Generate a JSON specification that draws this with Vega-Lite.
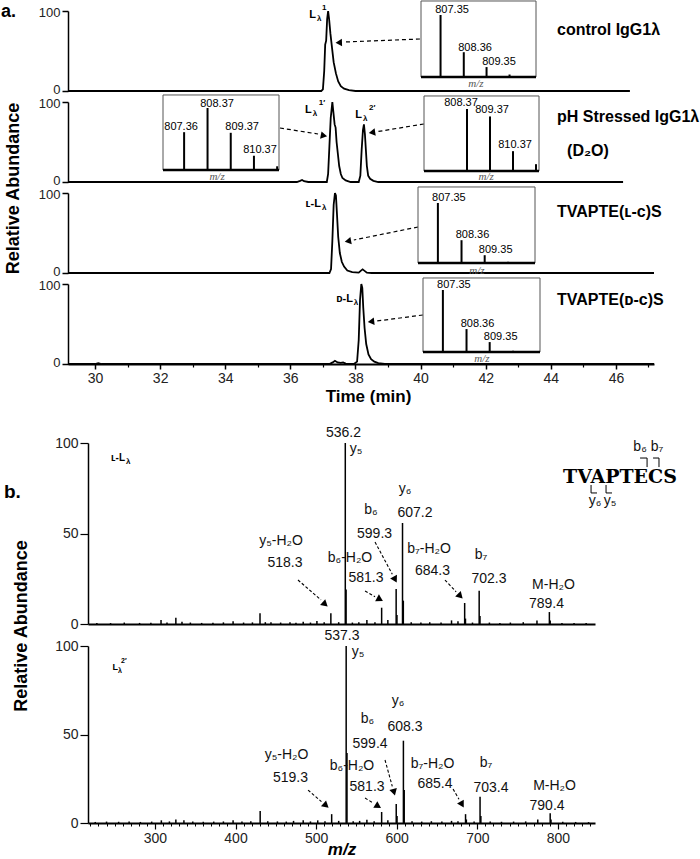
{
  "$schema": "https://vega.github.io/schema/vega-lite/v6.json",
  "width": 700,
  "height": 859,
  "autosize": {"type": "none"},
  "padding": 0,
  "background": "white",
  "config": {
    "view": {"stroke": null},
    "axis": {"grid": false, "labelFont": "Liberation Sans", "titleFont": "Liberation Sans", "domainColor": "black", "tickColor": "black", "labelColor": "#222", "titleColor": "black", "labelFlush": false, "labelOverlap": false},
    "text": {"font": "Liberation Sans", "color": "black"}
  },
  "resolve": {"scale": {"x": "independent", "y": "independent"}},
  "layer": [
    {"layer": [
      {"data": {"values": [{"t":29.17,"ab":0},{"t":36.95,"ab":0},{"t":37.0,"ab":2},{"t":37.04,"ab":25},{"t":37.07,"ab":58},{"t":37.1,"ab":63},{"t":37.13,"ab":90},{"t":37.16,"ab":100},{"t":37.19,"ab":90},{"t":37.23,"ab":72},{"t":37.28,"ab":54},{"t":37.33,"ab":36},{"t":37.4,"ab":22},{"t":37.47,"ab":12},{"t":37.55,"ab":6},{"t":37.65,"ab":3},{"t":37.8,"ab":1},{"t":38.0,"ab":0},{"t":46.43,"ab":0}]},
       "mark": {"type": "line", "color": "black", "strokeWidth": 1.8},
       "encoding": {
         "x": {"field": "t", "type": "quantitative", "scale": {"domain": [29.17, 47.17], "range": [68, 654], "nice": false, "zero": false}, "axis": null},
         "y": {"field": "ab", "type": "quantitative", "scale": {"domain": [0, 100], "range": [91, 11], "nice": false, "zero": false}, "axis": null}
       }},
      {"data": {"values": [{"t": 39.98, "ab": 65, "t2": 37.68, "ab2": 61.25}]},
       "mark": {"type": "rule", "strokeDash": [4, 3], "strokeWidth": 1.2, "color": "black"},
       "encoding": {"x": {"field": "t", "type": "quantitative", "axis": null}, "y": {"field": "ab", "type": "quantitative", "axis": null}, "x2": {"field": "t2"}, "y2": {"field": "ab2"}}},
      {"data": {"values": [{}]},
       "mark": {"type": "point", "shape": "triangle", "angle": 268, "filled": true, "size": 55, "color": "black", "opacity": 1},
       "encoding": {"x": {"datum": 37.52, "type": "quantitative", "axis": null}, "y": {"datum": 60.6, "type": "quantitative", "axis": null}}},
      {"data": {"values": [{"s": "control IgG1λ", "t": 44.19, "ab": 70}]},
       "mark": {"type": "text", "fontSize": 16, "fontWeight": "bold", "align": "left", "baseline": "alphabetic"},
       "encoding": {"x": {"field": "t", "type": "quantitative", "axis": null}, "y": {"field": "ab", "type": "quantitative", "axis": null}, "text": {"field": "s"}}},
      {"data": {"values": [{"s": "L", "t": 36.79, "ab": 91.25}]},
       "mark": {"type": "text", "fontSize": 11, "fontWeight": "bold", "align": "right", "baseline": "alphabetic"},
       "encoding": {"x": {"field": "t", "type": "quantitative", "axis": null}, "y": {"field": "ab", "type": "quantitative", "axis": null}, "text": {"field": "s"}}},
      {"data": {"values": [{"s": "λ", "t": 36.79, "ab": 91.25}]},
       "mark": {"type": "text", "fontSize": 8, "fontWeight": "bold", "align": "left", "baseline": "alphabetic", "dx": 1, "dy": 3},
       "encoding": {"x": {"field": "t", "type": "quantitative", "axis": null}, "y": {"field": "ab", "type": "quantitative", "axis": null}, "text": {"field": "s"}}},
      {"data": {"values": [{"s": "1", "t": 36.79, "ab": 91.25}]},
       "mark": {"type": "text", "fontSize": 8, "fontWeight": "bold", "align": "left", "baseline": "alphabetic", "dx": 6, "dy": -8},
       "encoding": {"x": {"field": "t", "type": "quantitative", "axis": null}, "y": {"field": "ab", "type": "quantitative", "axis": null}, "text": {"field": "s"}}},
      {"data": {"values": [{"s": "a.", "t": 27.11, "ab": 93}]},
       "mark": {"type": "text", "fontSize": 18, "fontWeight": "bold", "align": "left", "baseline": "alphabetic"},
       "encoding": {"x": {"field": "t", "type": "quantitative", "axis": null}, "y": {"field": "ab", "type": "quantitative", "axis": null}, "text": {"field": "s"}}},
      {"data": {"values": [{"s": "Relative Abundance", "t": 27.51, "ab": -121.9}]},
       "mark": {"type": "text", "fontSize": 18, "fontWeight": "bold", "align": "center", "baseline": "middle", "angle": 270},
       "encoding": {"x": {"field": "t", "type": "quantitative", "axis": null}, "y": {"field": "ab", "type": "quantitative", "axis": null}, "text": {"field": "s"}}}
    ]},
    {"layer": [
      {"data": {"values": [{"t":29.17,"ab":0},{"t":36.2,"ab":0},{"t":36.3,"ab":1.5},{"t":36.36,"ab":2.5},{"t":36.42,"ab":1},{"t":36.55,"ab":0},{"t":37.12,"ab":0},{"t":37.16,"ab":10},{"t":37.2,"ab":45},{"t":37.24,"ab":80},{"t":37.29,"ab":100},{"t":37.32,"ab":88},{"t":37.36,"ab":72},{"t":37.39,"ab":68},{"t":37.42,"ab":50},{"t":37.46,"ab":35},{"t":37.5,"ab":20},{"t":37.55,"ab":10},{"t":37.6,"ab":5},{"t":37.7,"ab":2},{"t":37.85,"ab":0},{"t":38.1,"ab":0},{"t":38.15,"ab":8},{"t":38.19,"ab":40},{"t":38.23,"ab":65},{"t":38.26,"ab":72},{"t":38.29,"ab":60},{"t":38.32,"ab":40},{"t":38.35,"ab":20},{"t":38.39,"ab":8},{"t":38.45,"ab":4},{"t":38.55,"ab":1.5},{"t":38.7,"ab":0},{"t":46.22,"ab":0}]},
       "mark": {"type": "line", "color": "black", "strokeWidth": 1.8},
       "encoding": {
         "x": {"field": "t", "type": "quantitative", "scale": {"domain": [29.17, 47.17], "range": [68, 654], "nice": false, "zero": false}, "axis": null},
         "y": {"field": "ab", "type": "quantitative", "scale": {"domain": [0, 100], "range": [182, 102], "nice": false, "zero": false}, "axis": null}
       }},
      {"data": {"values": [{"t": 35.68, "ab": 67.5, "t2": 36.85, "ab2": 60}, {"t": 40.10, "ab": 72.5, "t2": 38.69, "ab2": 63.1}]},
       "mark": {"type": "rule", "strokeDash": [4, 3], "strokeWidth": 1.2, "color": "black"},
       "encoding": {"x": {"field": "t", "type": "quantitative", "axis": null}, "y": {"field": "ab", "type": "quantitative", "axis": null}, "x2": {"field": "t2"}, "y2": {"field": "ab2"}}},
      {"data": {"values": [{}]},
       "mark": {"type": "point", "shape": "triangle", "angle": 101, "filled": true, "size": 55, "color": "black", "opacity": 1},
       "encoding": {"x": {"datum": 37.0, "type": "quantitative", "axis": null}, "y": {"datum": 58.1, "type": "quantitative", "axis": null}}},
      {"data": {"values": [{}]},
       "mark": {"type": "point", "shape": "triangle", "angle": 261, "filled": true, "size": 55, "color": "black", "opacity": 1},
       "encoding": {"x": {"datum": 38.54, "type": "quantitative", "axis": null}, "y": {"datum": 62.1, "type": "quantitative", "axis": null}}},
      {"data": {"values": [{"s": "pH Stressed IgG1λ", "t": 44.19, "ab": 75}, {"s": "(D₂O)", "t": 44.5, "ab": 32.5}]},
       "mark": {"type": "text", "fontSize": 16, "fontWeight": "bold", "align": "left", "baseline": "alphabetic"},
       "encoding": {"x": {"field": "t", "type": "quantitative", "axis": null}, "y": {"field": "ab", "type": "quantitative", "axis": null}, "text": {"field": "s"}}},
      {"data": {"values": [{"s": "L", "t": 36.66, "ab": 86.25}, {"s": "L", "t": 38.2, "ab": 80}]},
       "mark": {"type": "text", "fontSize": 11, "fontWeight": "bold", "align": "right", "baseline": "alphabetic"},
       "encoding": {"x": {"field": "t", "type": "quantitative", "axis": null}, "y": {"field": "ab", "type": "quantitative", "axis": null}, "text": {"field": "s"}}},
      {"data": {"values": [{"s": "λ", "t": 36.66, "ab": 86.25}, {"s": "λ", "t": 38.2, "ab": 80}]},
       "mark": {"type": "text", "fontSize": 8, "fontWeight": "bold", "align": "left", "baseline": "alphabetic", "dx": 1, "dy": 3},
       "encoding": {"x": {"field": "t", "type": "quantitative", "axis": null}, "y": {"field": "ab", "type": "quantitative", "axis": null}, "text": {"field": "s"}}},
      {"data": {"values": [{"s": "1′", "t": 36.66, "ab": 86.25}, {"s": "2′", "t": 38.2, "ab": 80}]},
       "mark": {"type": "text", "fontSize": 8, "fontWeight": "bold", "align": "left", "baseline": "alphabetic", "dx": 7, "dy": -8},
       "encoding": {"x": {"field": "t", "type": "quantitative", "axis": null}, "y": {"field": "ab", "type": "quantitative", "axis": null}, "text": {"field": "s"}}}
    ]},
    {"layer": [
      {"data": {"values": [{"t":29.17,"ab":0},{"t":37.2,"ab":0},{"t":37.25,"ab":5},{"t":37.29,"ab":40},{"t":37.33,"ab":85},{"t":37.37,"ab":100},{"t":37.4,"ab":97},{"t":37.43,"ab":75},{"t":37.47,"ab":45},{"t":37.52,"ab":25},{"t":37.58,"ab":14},{"t":37.65,"ab":8},{"t":37.75,"ab":3},{"t":37.9,"ab":1},{"t":38.1,"ab":0.5},{"t":38.17,"ab":3},{"t":38.22,"ab":4.5},{"t":38.27,"ab":3},{"t":38.35,"ab":0.5},{"t":38.5,"ab":0},{"t":47.17,"ab":0}]},
       "mark": {"type": "line", "color": "black", "strokeWidth": 1.8},
       "encoding": {
         "x": {"field": "t", "type": "quantitative", "scale": {"domain": [29.17, 47.17], "range": [68, 654], "nice": false, "zero": false}, "axis": null},
         "y": {"field": "ab", "type": "quantitative", "scale": {"domain": [0, 100], "range": [273, 193], "nice": false, "zero": false}, "axis": null}
       }},
      {"data": {"values": [{"t": 39.92, "ab": 57.5, "t2": 37.95, "ab2": 41.25}]},
       "mark": {"type": "rule", "strokeDash": [4, 3], "strokeWidth": 1.2, "color": "black"},
       "encoding": {"x": {"field": "t", "type": "quantitative", "axis": null}, "y": {"field": "ab", "type": "quantitative", "axis": null}, "x2": {"field": "t2"}, "y2": {"field": "ab2"}}},
      {"data": {"values": [{}]},
       "mark": {"type": "point", "shape": "triangle", "angle": 259, "filled": true, "size": 55, "color": "black", "opacity": 1},
       "encoding": {"x": {"datum": 37.8, "type": "quantitative", "axis": null}, "y": {"datum": 40, "type": "quantitative", "axis": null}}},
      {"data": {"values": [{"s": "TVAPTE(ʟ-ᴄ)S", "t": 44.19, "ab": 70}]},
       "mark": {"type": "text", "fontSize": 16, "fontWeight": "bold", "align": "left", "baseline": "alphabetic"},
       "encoding": {"x": {"field": "t", "type": "quantitative", "axis": null}, "y": {"field": "ab", "type": "quantitative", "axis": null}, "text": {"field": "s"}}},
      {"data": {"values": [{"s": "ʟ-L", "t": 36.94, "ab": 82.5}]},
       "mark": {"type": "text", "fontSize": 11, "fontWeight": "bold", "align": "right", "baseline": "alphabetic"},
       "encoding": {"x": {"field": "t", "type": "quantitative", "axis": null}, "y": {"field": "ab", "type": "quantitative", "axis": null}, "text": {"field": "s"}}},
      {"data": {"values": [{"s": "λ", "t": 36.94, "ab": 82.5}]},
       "mark": {"type": "text", "fontSize": 8, "fontWeight": "bold", "align": "left", "baseline": "alphabetic", "dx": 1, "dy": 3},
       "encoding": {"x": {"field": "t", "type": "quantitative", "axis": null}, "y": {"field": "ab", "type": "quantitative", "axis": null}, "text": {"field": "s"}}}
    ]},
    {"layer": [
      {"data": {"values": [{"t":29.17,"ab":0},{"t":30.0,"ab":0},{"t":30.1,"ab":1},{"t":30.2,"ab":0},{"t":37.2,"ab":0},{"t":37.3,"ab":2},{"t":37.37,"ab":4},{"t":37.45,"ab":2},{"t":37.55,"ab":1.5},{"t":37.62,"ab":2},{"t":37.7,"ab":0.5},{"t":37.95,"ab":0},{"t":38.05,"ab":3},{"t":38.1,"ab":30},{"t":38.14,"ab":80},{"t":38.18,"ab":100},{"t":38.21,"ab":95},{"t":38.24,"ab":70},{"t":38.28,"ab":45},{"t":38.33,"ab":25},{"t":38.4,"ab":12},{"t":38.48,"ab":6},{"t":38.58,"ab":3},{"t":38.7,"ab":1},{"t":38.9,"ab":0},{"t":47.17,"ab":0}]},
       "mark": {"type": "line", "color": "black", "strokeWidth": 1.8},
       "encoding": {
         "x": {"field": "t", "type": "quantitative", "scale": {"domain": [29.17, 47.17], "range": [68, 654], "nice": false, "zero": false}, "axis": null},
         "y": {"field": "ab", "type": "quantitative", "scale": {"domain": [0, 100], "range": [364, 284], "nice": false, "zero": false}, "axis": null}
       }},
      {"data": {"values": [{"t": 40.07, "ab": 61.25, "t2": 38.66, "ab2": 53.75}]},
       "mark": {"type": "rule", "strokeDash": [4, 3], "strokeWidth": 1.2, "color": "black"},
       "encoding": {"x": {"field": "t", "type": "quantitative", "axis": null}, "y": {"field": "ab", "type": "quantitative", "axis": null}, "x2": {"field": "t2"}, "y2": {"field": "ab2"}}},
      {"data": {"values": [{}]},
       "mark": {"type": "point", "shape": "triangle", "angle": 263, "filled": true, "size": 55, "color": "black", "opacity": 1},
       "encoding": {"x": {"datum": 38.51, "type": "quantitative", "axis": null}, "y": {"datum": 53.1, "type": "quantitative", "axis": null}}},
      {"data": {"values": [{"s": "TVAPTE(ᴅ-ᴄ)S", "t": 44.19, "ab": 73.75}]},
       "mark": {"type": "text", "fontSize": 16, "fontWeight": "bold", "align": "left", "baseline": "alphabetic"},
       "encoding": {"x": {"field": "t", "type": "quantitative", "axis": null}, "y": {"field": "ab", "type": "quantitative", "axis": null}, "text": {"field": "s"}}},
      {"data": {"values": [{"s": "ᴅ-L", "t": 37.92, "ab": 77.5}]},
       "mark": {"type": "text", "fontSize": 11, "fontWeight": "bold", "align": "right", "baseline": "alphabetic"},
       "encoding": {"x": {"field": "t", "type": "quantitative", "axis": null}, "y": {"field": "ab", "type": "quantitative", "axis": null}, "text": {"field": "s"}}},
      {"data": {"values": [{"s": "λ", "t": 37.92, "ab": 77.5}]},
       "mark": {"type": "text", "fontSize": 8, "fontWeight": "bold", "align": "left", "baseline": "alphabetic", "dx": 1, "dy": 3},
       "encoding": {"x": {"field": "t", "type": "quantitative", "axis": null}, "y": {"field": "ab", "type": "quantitative", "axis": null}, "text": {"field": "s"}}}
    ]},
    {"data": {"values": [{}]}, "mark": {"type": "point", "opacity": 0},
     "encoding": {"y": {"datum": 0, "type": "quantitative", "scale": {"domain": [0, 100], "range": [91, 11], "nice": false, "zero": false}, "axis": {"orient": "left", "offset": -68, "values": [0, 100], "tickSize": 6, "tickWidth": 1.5, "domainWidth": 1.5, "labelFontSize": 13, "labelPadding": 2, "labelOffset": {"condition": {"test": "datum.value === 0", "value": -1.5}, "value": 1.5}, "title": null}}}},
    {"data": {"values": [{}]}, "mark": {"type": "point", "opacity": 0},
     "encoding": {"y": {"datum": 0, "type": "quantitative", "scale": {"domain": [0, 100], "range": [182, 102], "nice": false, "zero": false}, "axis": {"orient": "left", "offset": -68, "values": [0, 100], "tickSize": 6, "tickWidth": 1.5, "domainWidth": 1.5, "labelFontSize": 13, "labelPadding": 2, "labelOffset": {"condition": {"test": "datum.value === 0", "value": -1.5}, "value": 1.5}, "title": null}}}},
    {"data": {"values": [{}]}, "mark": {"type": "point", "opacity": 0},
     "encoding": {"y": {"datum": 0, "type": "quantitative", "scale": {"domain": [0, 100], "range": [273, 193], "nice": false, "zero": false}, "axis": {"orient": "left", "offset": -68, "values": [0, 100], "tickSize": 6, "tickWidth": 1.5, "domainWidth": 1.5, "labelFontSize": 13, "labelPadding": 2, "labelOffset": {"condition": {"test": "datum.value === 0", "value": -1.5}, "value": 1.5}, "title": null}}}},
    {"data": {"values": [{}]}, "mark": {"type": "point", "opacity": 0},
     "encoding": {"y": {"datum": 0, "type": "quantitative", "scale": {"domain": [0, 100], "range": [364, 284], "nice": false, "zero": false}, "axis": {"orient": "left", "offset": -68, "values": [0, 100], "tickSize": 6, "tickWidth": 1.5, "domainWidth": 1.5, "labelFontSize": 13, "labelPadding": 2, "labelOffset": {"condition": {"test": "datum.value === 0", "value": -1.5}, "value": 1.5}, "title": null}}}},
    {"data": {"values": [{}]}, "mark": {"type": "point", "opacity": 0},
     "encoding": {"x": {"datum": 30, "type": "quantitative", "scale": {"domain": [29.17, 47.17], "range": [68, 654], "nice": false, "zero": false}, "axis": {"orient": "bottom", "offset": -495, "values": [30, 32, 34, 36, 38, 40, 42, 44, 46], "tickSize": 5, "tickWidth": 1.5, "domainWidth": 2, "labelFontSize": 14, "labelPadding": 2, "title": "Time (min)", "titleFontSize": 17, "titleFontWeight": "bold", "titlePadding": 3, "titleX": 368}}}},
    {"data": {"values": [{}]}, "mark": {"type": "point", "opacity": 0},
     "encoding": {"x": {"datum": 30, "type": "quantitative", "scale": {"domain": [29.17, 47.17], "range": [68, 654], "nice": false, "zero": false}, "axis": {"orient": "bottom", "offset": -495, "values": [31, 33, 35, 37, 39, 41, 43, 45, 47], "tickSize": 3, "tickWidth": 1.2, "labels": false, "domain": false, "title": null}}}},
    {"layer": [
      {"data": {"values": [{}]}, "mark": {"type": "rect", "fill": "white", "stroke": "#555", "strokeWidth": 1},
       "encoding": {"x": {"datum": 806.5, "type": "quantitative", "scale": {"domain": [806.5, 811.5], "range": [421, 536], "nice": false, "zero": false}, "axis": null}, "x2": {"datum": 811.5},
         "y": {"datum": 0, "type": "quantitative", "scale": {"domain": [0, 100], "range": [77, 15], "nice": false, "zero": false}, "axis": null}, "y2": {"datum": 122.6}}},
      {"data": {"values": [{"mz": 807.35, "i": 100}, {"mz": 808.36, "i": 40}, {"mz": 809.35, "i": 16}, {"mz": 810.35, "i": 4}]},
       "mark": {"type": "rule", "color": "black", "strokeWidth": 2},
       "encoding": {"x": {"field": "mz", "type": "quantitative", "axis": null}, "y": {"field": "i", "type": "quantitative", "axis": null}, "y2": {"datum": 0}}},
      {"data": {"values": [{}]}, "mark": {"type": "rule", "color": "black", "strokeWidth": 2.5},
       "encoding": {"x": {"datum": 806.5, "type": "quantitative", "axis": null}, "x2": {"datum": 811.5}, "y": {"datum": 0, "type": "quantitative", "axis": null}}},
      {"data": {"values": [{"s": "807.35", "mz": 807.85, "i": 103}, {"s": "808.36", "mz": 808.85, "i": 42}, {"s": "809.35", "mz": 809.89, "i": 19.4}]},
       "mark": {"type": "text", "fontSize": 11, "align": "center", "baseline": "alphabetic"},
       "encoding": {"x": {"field": "mz", "type": "quantitative", "axis": null}, "y": {"field": "i", "type": "quantitative", "axis": null}, "text": {"field": "s"}}},
      {"data": {"values": [{"s": "m/z", "mz": 808.89, "i": -16}]},
       "mark": {"type": "text", "font": "Liberation Serif", "fontStyle": "italic", "fontSize": 11, "color": "#555", "align": "center", "baseline": "alphabetic"},
       "encoding": {"x": {"field": "mz", "type": "quantitative", "axis": null}, "y": {"field": "i", "type": "quantitative", "axis": null}, "text": {"field": "s"}}}
    ]},
    {"layer": [
      {"data": {"values": [{}]}, "mark": {"type": "rect", "fill": "white", "stroke": "#555", "strokeWidth": 1},
       "encoding": {"x": {"datum": 806.45, "type": "quantitative", "scale": {"domain": [806.45, 811.45], "range": [163, 279], "nice": false, "zero": false}, "axis": null}, "x2": {"datum": 811.45},
         "y": {"datum": 0, "type": "quantitative", "scale": {"domain": [0, 100], "range": [170, 108], "nice": false, "zero": false}, "axis": null}, "y2": {"datum": 121}}},
      {"data": {"values": [{"mz": 807.36, "i": 61}, {"mz": 808.37, "i": 100}, {"mz": 809.37, "i": 60}, {"mz": 810.37, "i": 23}, {"mz": 811.37, "i": 6}]},
       "mark": {"type": "rule", "color": "black", "strokeWidth": 2},
       "encoding": {"x": {"field": "mz", "type": "quantitative", "axis": null}, "y": {"field": "i", "type": "quantitative", "axis": null}, "y2": {"datum": 0}}},
      {"data": {"values": [{}]}, "mark": {"type": "rule", "color": "black", "strokeWidth": 2.5},
       "encoding": {"x": {"datum": 806.45, "type": "quantitative", "axis": null}, "x2": {"datum": 811.45}, "y": {"datum": 0, "type": "quantitative", "axis": null}}},
      {"data": {"values": [{"s": "807.36", "mz": 807.23, "i": 64.5}, {"s": "808.37", "mz": 808.78, "i": 101.6}, {"s": "809.37", "mz": 809.86, "i": 64.5}, {"s": "810.37", "mz": 810.63, "i": 27.4}]},
       "mark": {"type": "text", "fontSize": 11, "align": "center", "baseline": "alphabetic"},
       "encoding": {"x": {"field": "mz", "type": "quantitative", "axis": null}, "y": {"field": "i", "type": "quantitative", "axis": null}, "text": {"field": "s"}}},
      {"data": {"values": [{"s": "m/z", "mz": 808.78, "i": -16}]},
       "mark": {"type": "text", "font": "Liberation Serif", "fontStyle": "italic", "fontSize": 11, "color": "#555", "align": "center", "baseline": "alphabetic"},
       "encoding": {"x": {"field": "mz", "type": "quantitative", "axis": null}, "y": {"field": "i", "type": "quantitative", "axis": null}, "text": {"field": "s"}}}
    ]},
    {"layer": [
      {"data": {"values": [{}]}, "mark": {"type": "rect", "fill": "white", "stroke": "#555", "strokeWidth": 1},
       "encoding": {"x": {"datum": 806.5, "type": "quantitative", "scale": {"domain": [806.5, 811.5], "range": [424, 539], "nice": false, "zero": false}, "axis": null}, "x2": {"datum": 811.5},
         "y": {"datum": 0, "type": "quantitative", "scale": {"domain": [0, 100], "range": [171, 109], "nice": false, "zero": false}, "axis": null}, "y2": {"datum": 121}}},
      {"data": {"values": [{"mz": 808.37, "i": 100}, {"mz": 809.37, "i": 88}, {"mz": 810.37, "i": 32}, {"mz": 811.37, "i": 11}]},
       "mark": {"type": "rule", "color": "black", "strokeWidth": 2},
       "encoding": {"x": {"field": "mz", "type": "quantitative", "axis": null}, "y": {"field": "i", "type": "quantitative", "axis": null}, "y2": {"datum": 0}}},
      {"data": {"values": [{}]}, "mark": {"type": "rule", "color": "black", "strokeWidth": 2.5},
       "encoding": {"x": {"datum": 806.5, "type": "quantitative", "axis": null}, "x2": {"datum": 811.5}, "y": {"datum": 0, "type": "quantitative", "axis": null}}},
      {"data": {"values": [{"s": "808.37", "mz": 808.11, "i": 104.8}, {"s": "809.37", "mz": 809.46, "i": 93.5}, {"s": "810.37", "mz": 810.46, "i": 37.1}]},
       "mark": {"type": "text", "fontSize": 11, "align": "center", "baseline": "alphabetic"},
       "encoding": {"x": {"field": "mz", "type": "quantitative", "axis": null}, "y": {"field": "i", "type": "quantitative", "axis": null}, "text": {"field": "s"}}},
      {"data": {"values": [{"s": "m/z", "mz": 809.2, "i": -14.5}]},
       "mark": {"type": "text", "font": "Liberation Serif", "fontStyle": "italic", "fontSize": 11, "color": "#555", "align": "center", "baseline": "alphabetic"},
       "encoding": {"x": {"field": "mz", "type": "quantitative", "axis": null}, "y": {"field": "i", "type": "quantitative", "axis": null}, "text": {"field": "s"}}}
    ]},
    {"layer": [
      {"data": {"values": [{}]}, "mark": {"type": "rect", "fill": "white", "stroke": "#555", "strokeWidth": 1},
       "encoding": {"x": {"datum": 806.5, "type": "quantitative", "scale": {"domain": [806.5, 811.5], "range": [418, 535], "nice": false, "zero": false}, "axis": null}, "x2": {"datum": 811.5},
         "y": {"datum": 0, "type": "quantitative", "scale": {"domain": [0, 100], "range": [263, 203], "nice": false, "zero": false}, "axis": null}, "y2": {"datum": 126.7}}},
      {"data": {"values": [{"mz": 807.35, "i": 100}, {"mz": 808.36, "i": 38}, {"mz": 809.35, "i": 13}, {"mz": 810.35, "i": 2}]},
       "mark": {"type": "rule", "color": "black", "strokeWidth": 2},
       "encoding": {"x": {"field": "mz", "type": "quantitative", "axis": null}, "y": {"field": "i", "type": "quantitative", "axis": null}, "y2": {"datum": 0}}},
      {"data": {"values": [{}]}, "mark": {"type": "rule", "color": "black", "strokeWidth": 2.5},
       "encoding": {"x": {"datum": 806.5, "type": "quantitative", "axis": null}, "x2": {"datum": 811.5}, "y": {"datum": 0, "type": "quantitative", "axis": null}}},
      {"data": {"values": [{"s": "807.35", "mz": 807.82, "i": 103.3}, {"s": "808.36", "mz": 808.83, "i": 41.3}, {"s": "809.35", "mz": 809.82, "i": 16.3}]},
       "mark": {"type": "text", "fontSize": 11, "align": "center", "baseline": "alphabetic"},
       "encoding": {"x": {"field": "mz", "type": "quantitative", "axis": null}, "y": {"field": "i", "type": "quantitative", "axis": null}, "text": {"field": "s"}}},
      {"data": {"values": [{"s": "m/z", "mz": 809.02, "i": -18}]},
       "mark": {"type": "text", "font": "Liberation Serif", "fontStyle": "italic", "fontSize": 11, "color": "#555", "align": "center", "baseline": "alphabetic"},
       "encoding": {"x": {"field": "mz", "type": "quantitative", "axis": null}, "y": {"field": "i", "type": "quantitative", "axis": null}, "text": {"field": "s"}}}
    ]},
    {"layer": [
      {"data": {"values": [{}]}, "mark": {"type": "rect", "fill": "white", "stroke": "#555", "strokeWidth": 1},
       "encoding": {"x": {"datum": 806.5, "type": "quantitative", "scale": {"domain": [806.5, 811.5], "range": [423, 540], "nice": false, "zero": false}, "axis": null}, "x2": {"datum": 811.5},
         "y": {"datum": 0, "type": "quantitative", "scale": {"domain": [0, 100], "range": [352, 290], "nice": false, "zero": false}, "axis": null}, "y2": {"datum": 119.4}}},
      {"data": {"values": [{"mz": 807.35, "i": 100}, {"mz": 808.36, "i": 37}, {"mz": 809.35, "i": 16}, {"mz": 810.35, "i": 2}]},
       "mark": {"type": "rule", "color": "black", "strokeWidth": 2},
       "encoding": {"x": {"field": "mz", "type": "quantitative", "axis": null}, "y": {"field": "i", "type": "quantitative", "axis": null}, "y2": {"datum": 0}}},
      {"data": {"values": [{}]}, "mark": {"type": "rule", "color": "black", "strokeWidth": 2.5},
       "encoding": {"x": {"datum": 806.5, "type": "quantitative", "axis": null}, "x2": {"datum": 811.5}, "y": {"datum": 0, "type": "quantitative", "axis": null}}},
      {"data": {"values": [{"s": "807.35", "mz": 807.82, "i": 103.2}, {"s": "808.36", "mz": 808.83, "i": 40.2}, {"s": "809.35", "mz": 809.82, "i": 19.2}]},
       "mark": {"type": "text", "fontSize": 11, "align": "center", "baseline": "alphabetic"},
       "encoding": {"x": {"field": "mz", "type": "quantitative", "axis": null}, "y": {"field": "i", "type": "quantitative", "axis": null}, "text": {"field": "s"}}},
      {"data": {"values": [{"s": "m/z", "mz": 809.02, "i": -16}]},
       "mark": {"type": "text", "font": "Liberation Serif", "fontStyle": "italic", "fontSize": 11, "color": "#555", "align": "center", "baseline": "alphabetic"},
       "encoding": {"x": {"field": "mz", "type": "quantitative", "axis": null}, "y": {"field": "i", "type": "quantitative", "axis": null}, "text": {"field": "s"}}}
    ]},
    {"layer": [
      {"data": {"values": [{"mz":228,"ab":0.6},{"mz":245,"ab":0.5},{"mz":262,"ab":0.8},{"mz":281,"ab":0.6},{"mz":295,"ab":0.7},{"mz":307.6,"ab":2.2},{"mz":315,"ab":0.8},{"mz":326,"ab":3.5},{"mz":333.6,"ab":1.2},{"mz":344,"ab":0.8},{"mz":358,"ab":0.6},{"mz":372,"ab":0.7},{"mz":385,"ab":0.9},{"mz":397,"ab":1.5},{"mz":410,"ab":0.8},{"mz":421,"ab":0.9},{"mz":430.4,"ab":5.9},{"mz":437,"ab":1},{"mz":444,"ab":1},{"mz":456,"ab":0.8},{"mz":467.6,"ab":1},{"mz":475,"ab":0.7},{"mz":484,"ab":1.2},{"mz":493,"ab":0.8},{"mz":501,"ab":1.6},{"mz":510,"ab":0.9},{"mz":518.3,"ab":5.9},{"mz":528,"ab":1},{"mz":536.2,"ab":100},{"mz":537.2,"ab":19},{"mz":545,"ab":0.8},{"mz":553,"ab":1},{"mz":563,"ab":2.2},{"mz":573,"ab":1},{"mz":581.3,"ab":9},{"mz":589,"ab":2.2},{"mz":599.3,"ab":19.3},{"mz":600.3,"ab":5},{"mz":607.2,"ab":55.8},{"mz":608.2,"ab":12.9},{"mz":618,"ab":1},{"mz":630,"ab":0.8},{"mz":641,"ab":1},{"mz":655,"ab":0.8},{"mz":668,"ab":2},{"mz":676,"ab":1.5},{"mz":684.3,"ab":11.6},{"mz":685.3,"ab":3},{"mz":694,"ab":0.8},{"mz":702.3,"ab":18.4},{"mz":703.3,"ab":4.4},{"mz":715,"ab":0.8},{"mz":728,"ab":0.6},{"mz":741,"ab":0.8},{"mz":757,"ab":1},{"mz":774,"ab":2},{"mz":789.4,"ab":6.6},{"mz":790.4,"ab":2},{"mz":805,"ab":0.6},{"mz":820,"ab":0.5},{"mz":835,"ab":0.5}]},
       "mark": {"type": "rule", "color": "black", "strokeWidth": 1.5},
       "encoding": {
         "x": {"field": "mz", "type": "quantitative", "scale": {"domain": [217, 846], "range": [88, 595], "nice": false, "zero": false}, "axis": null},
         "y": {"field": "ab", "type": "quantitative", "scale": {"domain": [0, 100], "range": [624, 443], "nice": false, "zero": false}, "axis": null},
         "y2": {"datum": 0}
       }},
      {"data": {"values": [{"mz": 477.5, "ab": 24.3, "mz2": 506.1, "ab2": 13.3}, {"mz": 560.7, "ab": 18.2, "mz2": 573.1, "ab2": 15.1}, {"mz": 573.1, "ab": 45.3, "mz2": 594.5, "ab2": 27.5}, {"mz": 659.9, "ab": 24.3, "mz2": 673.7, "ab2": 17.8}]},
       "mark": {"type": "rule", "strokeDash": [3, 2], "strokeWidth": 1.1, "color": "black"},
       "encoding": {"x": {"field": "mz", "type": "quantitative", "axis": null}, "y": {"field": "ab", "type": "quantitative", "axis": null}, "x2": {"field": "mz2"}, "y2": {"field": "ab2"}}},
      {"data": {"values": [{}]}, "mark": {"type": "point", "shape": "triangle", "angle": 132, "filled": true, "size": 60, "color": "black", "opacity": 1},
       "encoding": {"x": {"datum": 510.2, "type": "quantitative", "axis": null}, "y": {"datum": 11.3, "type": "quantitative", "axis": null}}},
      {"data": {"values": [{}]}, "mark": {"type": "point", "shape": "triangle", "angle": 119, "filled": true, "size": 60, "color": "black", "opacity": 1},
       "encoding": {"x": {"datum": 578.0, "type": "quantitative", "axis": null}, "y": {"datum": 13.9, "type": "quantitative", "axis": null}}},
      {"data": {"values": [{}]}, "mark": {"type": "point", "shape": "triangle", "angle": 152, "filled": true, "size": 60, "color": "black", "opacity": 1},
       "encoding": {"x": {"datum": 597.4, "type": "quantitative", "axis": null}, "y": {"datum": 25.1, "type": "quantitative", "axis": null}}},
      {"data": {"values": [{}]}, "mark": {"type": "point", "shape": "triangle", "angle": 136, "filled": true, "size": 60, "color": "black", "opacity": 1},
       "encoding": {"x": {"datum": 677.9, "type": "quantitative", "axis": null}, "y": {"datum": 15.8, "type": "quantitative", "axis": null}}},
      {"data": {"values": [{"s": "536.2", "mz": 534, "ab": 103.3}, {"s": "518.3", "mz": 461.4, "ab": 31.5}, {"s": "581.3", "mz": 561.9, "ab": 23.2}, {"s": "599.3", "mz": 572.5, "ab": 47.5}, {"s": "607.2", "mz": 622.7, "ab": 59.1}, {"s": "684.3", "mz": 644.4, "ab": 27.1}, {"s": "702.3", "mz": 714.5, "ab": 22.7}, {"s": "789.4", "mz": 785.8, "ab": 8.8},
         {"s": "y₅", "mz": 549.5, "ab": 94.6}, {"s": "y₅-H₂O", "mz": 456.5, "ab": 43.6}, {"s": "b₆-H₂O", "mz": 542, "ab": 34.3}, {"s": "b₆", "mz": 568.1, "ab": 60.8}, {"s": "y₆", "mz": 610.3, "ab": 72.4}, {"s": "b₇-H₂O", "mz": 640.1, "ab": 39.2}, {"s": "b₇", "mz": 704.6, "ab": 35.9}, {"s": "M-H₂O", "mz": 794.5, "ab": 19.3},
         {"s": "b₆", "mz": 901.9, "ab": 95.6}, {"s": "b₇", "mz": 922.9, "ab": 95.6}, {"s": "y₆", "mz": 846, "ab": 65.7}, {"s": "y₅", "mz": 864.6, "ab": 65.7}]},
       "mark": {"type": "text", "fontSize": 14, "align": "center", "baseline": "alphabetic", "color": "#111"},
       "encoding": {"x": {"field": "mz", "type": "quantitative", "axis": null}, "y": {"field": "ab", "type": "quantitative", "axis": null}, "text": {"field": "s"}}},
      {"data": {"values": [{"s": "TVAPTECS", "mz": 877, "ab": 77.9}]},
       "mark": {"type": "text", "font": "DejaVu Serif", "fontSize": 19, "fontWeight": "bold", "align": "center", "baseline": "alphabetic"},
       "encoding": {"x": {"field": "mz", "type": "quantitative", "axis": null}, "y": {"field": "ab", "type": "quantitative", "axis": null}, "text": {"field": "s"}}},
      {"data": {"values": [{"mz": 901.9, "ab": 91.7, "mz2": 910.6, "ab2": 91.7}, {"mz": 910.6, "ab": 91.7, "mz2": 910.6, "ab2": 86.7}, {"mz": 918.0, "ab": 91.7, "mz2": 925.4, "ab2": 91.7}, {"mz": 925.4, "ab": 91.7, "mz2": 925.4, "ab2": 86.7}, {"mz": 841.1, "ab": 76.8, "mz2": 841.1, "ab2": 72.4}, {"mz": 841.1, "ab": 72.4, "mz2": 848.5, "ab2": 72.4}, {"mz": 859.7, "ab": 76.8, "mz2": 859.7, "ab2": 72.4}, {"mz": 859.7, "ab": 72.4, "mz2": 867.1, "ab2": 72.4}]},
       "mark": {"type": "rule", "strokeWidth": 1, "color": "black"},
       "encoding": {"x": {"field": "mz", "type": "quantitative", "axis": null}, "y": {"field": "ab", "type": "quantitative", "axis": null}, "x2": {"field": "mz2"}, "y2": {"field": "ab2"}}},
      {"data": {"values": [{"s": "ʟ-L", "mz": 262.9, "ab": 90}]},
       "mark": {"type": "text", "fontSize": 10, "fontWeight": "bold", "align": "right", "baseline": "alphabetic"},
       "encoding": {"x": {"field": "mz", "type": "quantitative", "axis": null}, "y": {"field": "ab", "type": "quantitative", "axis": null}, "text": {"field": "s"}}},
      {"data": {"values": [{"s": "λ", "mz": 262.9, "ab": 90}]},
       "mark": {"type": "text", "fontSize": 8, "fontWeight": "bold", "align": "left", "baseline": "alphabetic", "dx": 1, "dy": 3},
       "encoding": {"x": {"field": "mz", "type": "quantitative", "axis": null}, "y": {"field": "ab", "type": "quantitative", "axis": null}, "text": {"field": "s"}}},
      {"data": {"values": [{"s": "b.", "mz": 112.8, "ab": 69.6}]},
       "mark": {"type": "text", "fontSize": 19, "fontWeight": "bold", "align": "left", "baseline": "alphabetic"},
       "encoding": {"x": {"field": "mz", "type": "quantitative", "axis": null}, "y": {"field": "ab", "type": "quantitative", "axis": null}, "text": {"field": "s"}}},
      {"data": {"values": [{"s": "Relative Abundance", "mz": 135.1, "ab": -1.1}]},
       "mark": {"type": "text", "fontSize": 18, "fontWeight": "bold", "align": "center", "baseline": "middle", "angle": 270},
       "encoding": {"x": {"field": "mz", "type": "quantitative", "axis": null}, "y": {"field": "ab", "type": "quantitative", "axis": null}, "text": {"field": "s"}}}
    ]},
    {"layer": [
      {"data": {"values": [{"mz":226,"ab":0.6},{"mz":240,"ab":0.8},{"mz":255,"ab":0.7},{"mz":268,"ab":0.9},{"mz":282,"ab":0.6},{"mz":296,"ab":0.8},{"mz":308,"ab":1.5},{"mz":318,"ab":0.9},{"mz":326,"ab":2},{"mz":336,"ab":1.5},{"mz":347,"ab":0.9},{"mz":360,"ab":0.7},{"mz":373,"ab":0.8},{"mz":385,"ab":0.9},{"mz":397,"ab":1.5},{"mz":408,"ab":0.8},{"mz":419,"ab":1},{"mz":430.6,"ab":6.8},{"mz":440,"ab":1},{"mz":452,"ab":0.9},{"mz":463,"ab":0.8},{"mz":472,"ab":1.2},{"mz":484,"ab":1.5},{"mz":493,"ab":0.9},{"mz":502,"ab":1.5},{"mz":511,"ab":1},{"mz":519.3,"ab":5},{"mz":528,"ab":1.2},{"mz":537.3,"ab":100},{"mz":538.3,"ab":39.5},{"mz":546,"ab":1},{"mz":554,"ab":1.2},{"mz":563,"ab":1.9},{"mz":572,"ab":1},{"mz":581.3,"ab":6.2},{"mz":589,"ab":1.5},{"mz":599.4,"ab":10.7},{"mz":600.4,"ab":4},{"mz":608.3,"ab":46.5},{"mz":609.3,"ab":18.6},{"mz":619,"ab":1},{"mz":631,"ab":0.8},{"mz":643,"ab":1},{"mz":656,"ab":0.9},{"mz":668,"ab":1.2},{"mz":676,"ab":1},{"mz":685.4,"ab":5},{"mz":686.4,"ab":2},{"mz":696,"ab":0.8},{"mz":703.4,"ab":14.8},{"mz":704.4,"ab":4},{"mz":716,"ab":0.8},{"mz":730,"ab":0.7},{"mz":745,"ab":0.8},{"mz":760,"ab":0.9},{"mz":775,"ab":2},{"mz":790.4,"ab":5.5},{"mz":791.4,"ab":2},{"mz":806,"ab":0.7},{"mz":822,"ab":0.6},{"mz":838,"ab":0.5}]},
       "mark": {"type": "rule", "color": "black", "strokeWidth": 1.5},
       "encoding": {
         "x": {"field": "mz", "type": "quantitative", "scale": {"domain": [217, 846], "range": [88, 595], "nice": false, "zero": false}, "axis": null},
         "y": {"field": "ab", "type": "quantitative", "scale": {"domain": [0, 100], "range": [823, 646], "nice": false, "zero": false}, "axis": null},
         "y2": {"datum": 0}
       }},
      {"data": {"values": [{"mz": 490, "ab": 18.6, "mz2": 506.6, "ab2": 12.1}, {"mz": 560.7, "ab": 14.1, "mz2": 571.1, "ab2": 11.2}, {"mz": 585.5, "ab": 35.6, "mz2": 594.5, "ab2": 20.7}, {"mz": 669.9, "ab": 19.2, "mz2": 677.3, "ab2": 13.4}]},
       "mark": {"type": "rule", "strokeDash": [3, 2], "strokeWidth": 1.1, "color": "black"},
       "encoding": {"x": {"field": "mz", "type": "quantitative", "axis": null}, "y": {"field": "ab", "type": "quantitative", "axis": null}, "x2": {"field": "mz2"}, "y2": {"field": "ab2"}}},
      {"data": {"values": [{}]}, "mark": {"type": "point", "shape": "triangle", "angle": 131, "filled": true, "size": 60, "color": "black", "opacity": 1},
       "encoding": {"x": {"datum": 511.3, "type": "quantitative", "axis": null}, "y": {"datum": 10.3, "type": "quantitative", "axis": null}}},
      {"data": {"values": [{}]}, "mark": {"type": "point", "shape": "triangle", "angle": 122, "filled": true, "size": 60, "color": "black", "opacity": 1},
       "encoding": {"x": {"datum": 575.8, "type": "quantitative", "axis": null}, "y": {"datum": 9.8, "type": "quantitative", "axis": null}}},
      {"data": {"values": [{}]}, "mark": {"type": "point", "shape": "triangle", "angle": 164, "filled": true, "size": 60, "color": "black", "opacity": 1},
       "encoding": {"x": {"datum": 596.3, "type": "quantitative", "axis": null}, "y": {"datum": 18.0, "type": "quantitative", "axis": null}}},
      {"data": {"values": [{}]}, "mark": {"type": "point", "shape": "triangle", "angle": 150, "filled": true, "size": 60, "color": "black", "opacity": 1},
       "encoding": {"x": {"datum": 680.4, "type": "quantitative", "axis": null}, "y": {"datum": 11.0, "type": "quantitative", "axis": null}}},
      {"data": {"values": [{"s": "537.3", "mz": 532.1, "ab": 103.4}, {"s": "519.3", "mz": 468.2, "ab": 23.2}, {"s": "581.3", "mz": 563.2, "ab": 18.1}, {"s": "599.4", "mz": 566.9, "ab": 42.4}, {"s": "608.3", "mz": 610.3, "ab": 52}, {"s": "685.4", "mz": 647.5, "ab": 19.8}, {"s": "703.4", "mz": 717.0, "ab": 17.5}, {"s": "790.4", "mz": 786.5, "ab": 7.3},
         {"s": "y₅", "mz": 552, "ab": 94.5}, {"s": "y₅-H₂O", "mz": 463.3, "ab": 36.2}, {"s": "b₆-H₂O", "mz": 544.5, "ab": 29.9}, {"s": "b₆", "mz": 563.8, "ab": 56.5}, {"s": "y₆", "mz": 601.6, "ab": 66.7}, {"s": "b₇-H₂O", "mz": 644.4, "ab": 31.1}, {"s": "b₇", "mz": 710.8, "ab": 31.6}, {"s": "M-H₂O", "mz": 795.8, "ab": 18.6}]},
       "mark": {"type": "text", "fontSize": 14, "align": "center", "baseline": "alphabetic", "color": "#111"},
       "encoding": {"x": {"field": "mz", "type": "quantitative", "axis": null}, "y": {"field": "ab", "type": "quantitative", "axis": null}, "text": {"field": "s"}}},
      {"data": {"values": [{"s": "L", "mz": 254.2, "ab": 86.4}]},
       "mark": {"type": "text", "fontSize": 9, "fontWeight": "bold", "align": "right", "baseline": "alphabetic"},
       "encoding": {"x": {"field": "mz", "type": "quantitative", "axis": null}, "y": {"field": "ab", "type": "quantitative", "axis": null}, "text": {"field": "s"}}},
      {"data": {"values": [{"s": "λ", "mz": 254.2, "ab": 86.4}]},
       "mark": {"type": "text", "fontSize": 7, "fontWeight": "bold", "align": "left", "baseline": "alphabetic", "dx": 0, "dy": 3},
       "encoding": {"x": {"field": "mz", "type": "quantitative", "axis": null}, "y": {"field": "ab", "type": "quantitative", "axis": null}, "text": {"field": "s"}}},
      {"data": {"values": [{"s": "2′", "mz": 254.2, "ab": 86.4}]},
       "mark": {"type": "text", "fontSize": 7, "fontWeight": "bold", "align": "left", "baseline": "alphabetic", "dx": 3, "dy": -7},
       "encoding": {"x": {"field": "mz", "type": "quantitative", "axis": null}, "y": {"field": "ab", "type": "quantitative", "axis": null}, "text": {"field": "s"}}}
    ]},
    {"data": {"values": [{}]}, "mark": {"type": "point", "opacity": 0},
     "encoding": {"x": {"datum": 300, "type": "quantitative", "scale": {"domain": [217, 846], "range": [88, 595], "nice": false, "zero": false}, "axis": {"orient": "bottom", "offset": -235, "ticks": false, "labels": false, "domainWidth": 2, "title": null}}}},
    {"data": {"values": [{}]}, "mark": {"type": "point", "opacity": 0},
     "encoding": {"y": {"datum": 0, "type": "quantitative", "scale": {"domain": [0, 100], "range": [624, 443], "nice": false, "zero": false}, "axis": {"orient": "left", "offset": -88, "values": [0, 50, 100], "tickSize": 8, "tickWidth": 1.2, "domainWidth": 1.5, "labelFontSize": 14, "labelPadding": 2, "title": null}}}},
    {"data": {"values": [{}]}, "mark": {"type": "point", "opacity": 0},
     "encoding": {"y": {"datum": 0, "type": "quantitative", "scale": {"domain": [0, 100], "range": [823, 646], "nice": false, "zero": false}, "axis": {"orient": "left", "offset": -88, "values": [0, 50, 100], "tickSize": 8, "tickWidth": 1.2, "domainWidth": 1.5, "labelFontSize": 14, "labelPadding": 2, "title": null}}}},
    {"data": {"values": [{}]}, "mark": {"type": "point", "opacity": 0},
     "encoding": {"x": {"datum": 300, "type": "quantitative", "scale": {"domain": [217, 846], "range": [88, 595], "nice": false, "zero": false}, "axis": {"orient": "bottom", "offset": -36, "values": [300, 400, 500, 600, 700, 800], "tickSize": 6, "tickWidth": 1.2, "domainWidth": 2, "labelFontSize": 14, "labelPadding": 2, "title": "m/z", "titleFontSize": 17, "titleFontWeight": "bold", "titleFontStyle": "italic", "titlePadding": -4}}}},
    {"data": {"values": [{}]}, "mark": {"type": "point", "opacity": 0},
     "encoding": {"x": {"datum": 300, "type": "quantitative", "scale": {"domain": [217, 846], "range": [88, 595], "nice": false, "zero": false}, "axis": {"orient": "bottom", "offset": -36, "values": [220,230,240,250,260,270,280,290,310,320,330,340,350,360,370,380,390,410,420,430,440,450,460,470,480,490,510,520,530,540,550,560,570,580,590,610,620,630,640,650,660,670,680,690,710,720,730,740,750,760,770,780,790,810,820,830,840], "tickSize": 3, "tickWidth": 1, "labels": false, "domain": false, "title": null}}}}
  ]
}
